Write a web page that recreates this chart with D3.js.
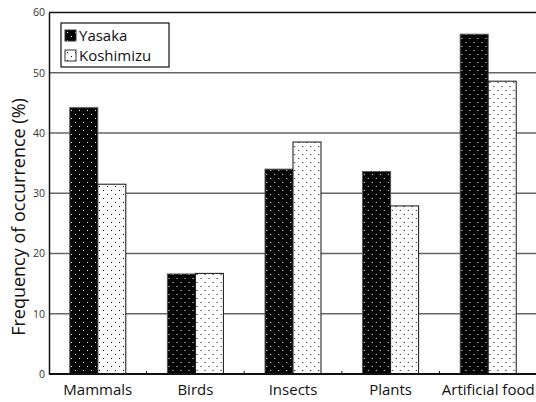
<!DOCTYPE html>
<html>
<head>
<meta charset="utf-8">
<script src="https://cdn.jsdelivr.net/npm/d3@7"></script>
<style>
  html, body { margin: 0; padding: 0; background: #fff; }
  svg { display: block; }
</style>
</head>
<body>
<script>
// Diet composition: frequency of occurrence by food category at two sites
const categories = ["Mammals", "Birds", "Insects", "Plants", "Artificial food"];
const seriesNames = ["Yasaka", "Koshimizu"];
const yasaka = [44.2, 16.6, 34.0, 33.6, 56.4];
const koshimizu = [31.5, 16.7, 38.5, 27.9, 48.6];
const yTicks = [0, 10, 20, 30, 40, 50, 60];

const W = 536, H = 402;
const margin = { top: 12.5, right: -1, bottom: 28, left: 49 };
const barWidth = 28;
const font = "'Open Sans', sans-serif";

const svg = d3.select("body").append("svg")
  .attr("width", W).attr("height", H);

// Dot fills for the two series
const defs = svg.append("defs");
function dotPattern(id, bg, dot) {
  const p = defs.append("pattern").attr("id", id)
    .attr("patternUnits", "userSpaceOnUse")
    .attr("width", 8).attr("height", 8);
  p.append("rect").attr("width", 8).attr("height", 8).attr("fill", bg);
  p.append("rect").attr("x", 2).attr("y", 2).attr("width", 1).attr("height", 1).attr("fill", dot);
  p.append("rect").attr("x", 6).attr("y", 6).attr("width", 1).attr("height", 1).attr("fill", dot);
}
dotPattern("dotsDark", "#000", "#fff");
dotPattern("dotsLight", "#fff", "#000");
const fills = ["url(#dotsDark)", "url(#dotsLight)"];
const strokes = ["#555", "#111"];

const x0 = d3.scaleBand().domain(categories)
  .range([margin.left, W - margin.right]).paddingInner(0).paddingOuter(0);
const bw = x0.bandwidth();
const x1 = d3.scaleBand().domain(seriesNames)
  .range([bw / 2 - barWidth, bw / 2 + barWidth]).padding(0);
const y = d3.scaleLinear().domain([0, 60]).range([H - margin.bottom, margin.top]);

// Horizontal grid lines
svg.append("g").selectAll("line")
  .data(yTicks.filter(t => t > 0 && t < 60))
  .join("line")
  .attr("x1", margin.left).attr("x2", W)
  .attr("y1", d => y(d)).attr("y2", d => y(d))
  .attr("stroke", "#666").attr("stroke-width", 1.4);

// Top frame line
svg.append("line")
  .attr("x1", margin.left).attr("x2", W)
  .attr("y1", y(60)).attr("y2", y(60))
  .attr("stroke", "#111").attr("stroke-width", 1.5);

// Bars
const data = categories.map((c, i) => ({ cat: c, vals: [yasaka[i], koshimizu[i]] }));
const groups = svg.append("g").selectAll("g")
  .data(data).join("g")
  .attr("transform", d => `translate(${x0(d.cat)},0)`);
groups.selectAll("rect")
  .data(d => d.vals.map((v, k) => ({ k, v })))
  .join("rect")
  .attr("x", d => x1(seriesNames[d.k]))
  .attr("width", x1.bandwidth())
  .attr("y", d => y(d.v))
  .attr("height", d => y(0) - y(d.v))
  .attr("fill", d => fills[d.k])
  .attr("stroke", d => strokes[d.k])
  .attr("stroke-width", 1);

// Y axis
const yAxis = svg.append("g")
  .attr("transform", `translate(${margin.left},0)`)
  .call(d3.axisLeft(y).tickValues(yTicks).tickSize(0).tickPadding(4));
yAxis.select(".domain").attr("stroke", "#111").attr("stroke-width", 1.5);
yAxis.selectAll("text")
  .attr("font-family", font)
  .attr("font-size", 10.5).attr("fill", "#333");

// X axis with small ticks at category boundaries
const xAxisG = svg.append("g").attr("transform", `translate(0,${y(0)})`);
xAxisG.append("line")
  .attr("x1", margin.left).attr("x2", W)
  .attr("stroke", "#111").attr("stroke-width", 2);
xAxisG.selectAll("line.tick")
  .data(categories.slice(1))
  .join("line").attr("class", "tick")
  .attr("x1", d => x0(d)).attr("x2", d => x0(d))
  .attr("y1", 0).attr("y2", -3)
  .attr("stroke", "#111").attr("stroke-width", 1);
xAxisG.selectAll("text")
  .data(categories)
  .join("text")
  .attr("x", d => x0(d) + bw / 2)
  .attr("y", 21)
  .attr("text-anchor", "middle")
  .attr("font-family", font)
  .attr("font-size", 15).attr("fill", "#111")
  .text(d => d);

// Y axis title
svg.append("text")
  .attr("transform", "translate(25,217) rotate(-90)")
  .attr("text-anchor", "middle")
  .attr("font-family", font)
  .attr("font-size", 18).attr("fill", "#111")
  .text("Frequency of occurrence (%)");

// Legend
const lg = svg.append("g").attr("transform", "translate(61,23)");
lg.append("rect").attr("width", 108).attr("height", 44)
  .attr("fill", "#fff").attr("stroke", "#111").attr("stroke-width", 1.2);
seriesNames.forEach((s, k) => {
  const row = lg.append("g").attr("transform", `translate(4,${7 + k * 20})`);
  row.append("rect").attr("width", 11).attr("height", 11)
    .attr("fill", fills[k]).attr("stroke", "#333").attr("stroke-width", 1);
  row.append("text").attr("x", 14).attr("y", 11)
    .attr("font-family", font)
    .attr("font-size", 15).attr("fill", "#111")
    .text(s);
});
</script>
</body>
</html>
